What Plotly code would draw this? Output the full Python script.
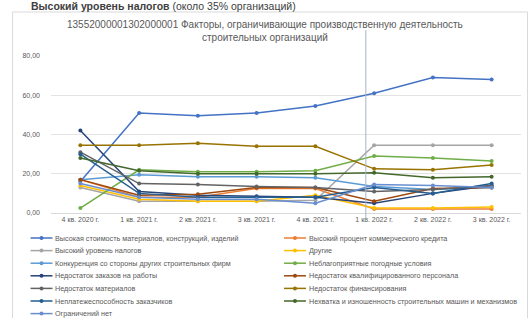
import plotly.graph_objects as go

quarters = ["4 кв. 2020 г.", "1 кв. 2021 г.", "2 кв. 2021 г.", "3 кв. 2021 г.",
            "4 кв. 2021 г.", "1 кв. 2022 г.", "2 кв. 2022 г.", "3 кв. 2022 г."]

names = [
    "Высокая стоимость материалов, конструкций, изделий",
    "Высокий процент коммерческого кредита",
    "Высокий уровень налогов",
    "Другие",
    "Конкуренция со стороны других строительных фирм",
    "Неблагоприятные погодные условия",
    "Недостаток заказов на работы",
    "Недостаток квалифицированного персонала",
    "Недостаток материалов",
    "Недостаток финансирования",
    "Неплатежеспособность заказчиков",
    "Нехватка и изношенность строительных машин и механизмов",
    "Ограничений нет",
]

s_material_cost = [16, 51, 49.5, 51, 54.5, 61, 69, 68]
s_credit_rate = [17, 8, 8, 12.5, 12.5, 2, 2, 2]
s_taxes = [13, 6, 6, 6, 6.5, 34.5, 34.5, 34.5]
s_other = [14, 7, 6, 6, 9, 2.5, 2.5, 3]
s_competition = [17, 19.5, 18.5, 18.5, 18, 13.5, 12, 13]
s_weather = [2.5, 22, 21, 21, 21.5, 29, 28, 26.5]
s_orders = [42, 11, 9, 8.5, 8, 5, 10, 14]
s_staff = [17, 9, 9.5, 13, 13, 6, 12.5, 13]
s_materials = [31, 15, 14.5, 13.5, 13, 11, 12, 14]
s_finance = [34.5, 34.5, 35.5, 34, 34, 22.5, 22, 24.5]
s_insolvency = [30, 10, 8, 8, 8, 13, 10, 15]
s_machinery = [28, 21.5, 20, 20, 20, 20.5, 18, 18.5]
s_none = [15, 8, 7, 7, 5, 14.5, 14, 13]

series = [s_material_cost, s_credit_rate, s_taxes, s_other, s_competition, s_weather,
          s_orders, s_staff, s_materials, s_finance, s_insolvency, s_machinery, s_none]

colors = ["#4472C4", "#ED7D31", "#A5A5A5", "#FFC000", "#5B9BD5", "#70AD47",
          "#264478", "#9E480E", "#636363", "#997300", "#255E91", "#43682B", "#698ED0"]

chart_title = "13552000001302000001 Факторы, ограничивающие производственную деятельность<br>строительных организаций"
top_note_bold = "Высокий уровень налогов"
top_note_rest = " (около 35% организаций)"

W, H = 532, 318
L, R, T, B = 50.5, 521.5, 56, 213


def px_x(p):
    return (p - L) / (R - L)


def px_y(p):
    return (B - p) / (B - T)


fig = go.Figure()
for name, vals, col in zip(names, series, colors):
    fig.add_trace(go.Scatter(
        x=quarters, y=vals, name=name, mode="lines+markers",
        line=dict(color=col, width=1.5),
        marker=dict(color=col, size=4),
        showlegend=False,
    ))

shapes = []
annotations = []

# chart frame
shapes.append(dict(type="rect", xref="paper", yref="paper",
                   x0=px_x(12), x1=px_x(528), y0=px_y(12), y1=px_y(330),
                   line=dict(color="#D9D9D9", width=1), layer="below"))
# vertical marker line
shapes.append(dict(type="line", xref="paper", yref="paper",
                   x0=px_x(366), x1=px_x(366), y0=px_y(30), y1=px_y(220),
                   line=dict(color="#A6B4C8", width=1)))

# manual legend (two columns, row-wise)
row_y0, row_dy = 238, 12.6
for i, (name, col) in enumerate(zip(names, colors)):
    r, c = divmod(i, 2)
    yy = row_y0 + r * row_dy
    x0 = 30 if c == 0 else 284
    x1 = x0 + 22
    shapes.append(dict(type="line", xref="paper", yref="paper",
                       x0=px_x(x0), x1=px_x(x1), y0=px_y(yy), y1=px_y(yy),
                       line=dict(color=col, width=1.5)))
    shapes.append(dict(type="circle", xref="paper", yref="paper",
                       x0=px_x(x0 + 9), x1=px_x(x0 + 13), y0=px_y(yy - 2), y1=px_y(yy + 2),
                       fillcolor=col, line=dict(color=col, width=0)))
    annotations.append(dict(xref="paper", yref="paper", x=px_x(x1 + 1), y=px_y(yy),
                            xanchor="left", yanchor="middle", showarrow=False,
                            text=name, font=dict(size=7.2, color="#595959")))

annotations.append(dict(xref="paper", yref="paper", x=px_x(265), y=px_y(31),
                        xanchor="center", yanchor="middle", showarrow=False,
                        text=chart_title, align="center",
                        font=dict(size=10, color="#595959")))
annotations.append(dict(xref="paper", yref="paper", x=px_x(28), y=px_y(6),
                        xanchor="left", yanchor="middle", showarrow=False,
                        text="<b>" + top_note_bold + "</b>" + top_note_rest,
                        font=dict(size=10.5, color="#404040")))

fig.update_layout(
    width=W, height=H,
    margin=dict(l=L, r=W - R, t=T, b=H - B, pad=0),
    paper_bgcolor="white", plot_bgcolor="white",
    font=dict(family="Liberation Sans, Arial, sans-serif", color="#595959"),
    separators=", ",
    shapes=shapes, annotations=annotations,
    showlegend=False,
)
fig.update_xaxes(type="category", range=[-0.5, 7.5], showgrid=False,
                 showline=True, linecolor="#D9D9D9", ticks="",
                 tickfont=dict(size=7, color="#595959"), tickangle=0)
fig.update_yaxes(range=[0, 80], dtick=20, tickformat=".2f",
                 showgrid=True, gridcolor="#E3E3E3", zeroline=False,
                 showline=False, ticklabelstandoff=10,
                 tickfont=dict(size=7, color="#595959"))

fig.write_html("out.html", config={"displayModeBar": False},
               post_script="document.body.style.margin='0';")
